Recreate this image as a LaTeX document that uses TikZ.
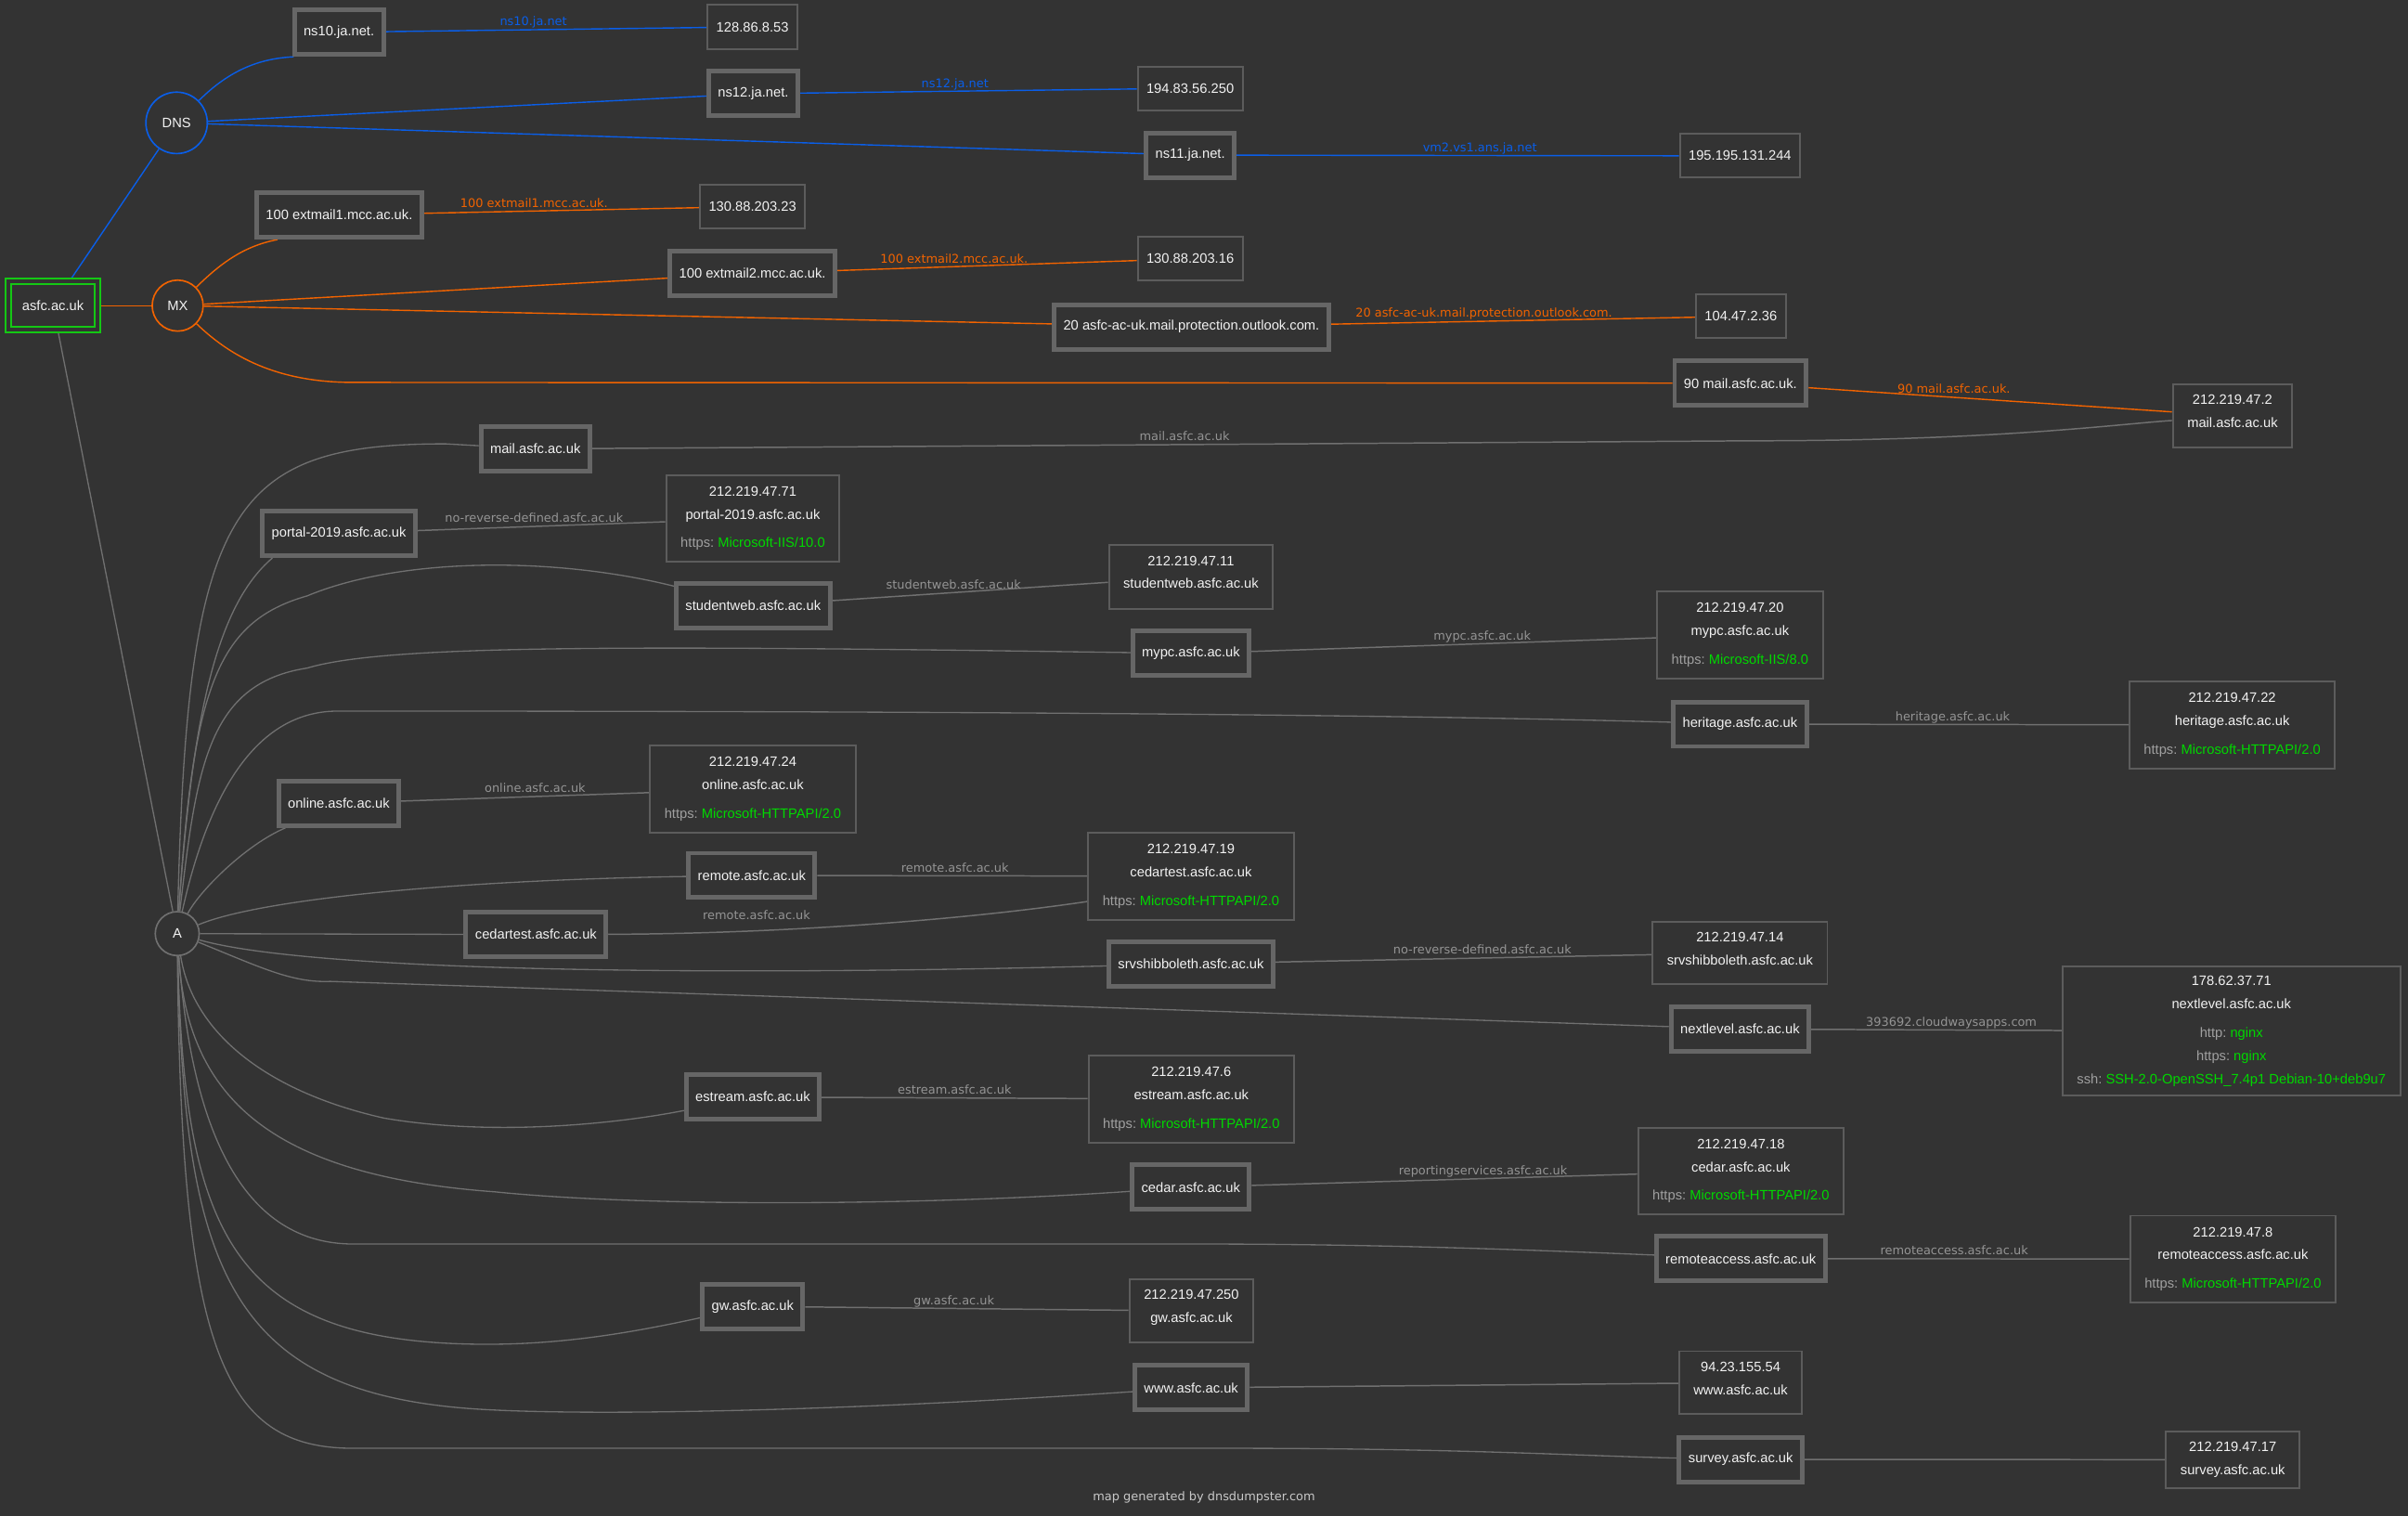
\documentclass[tikz,border=0pt]{standalone}
\usepackage{fontspec}
\setmainfont{Liberation Sans}
\newfontfamily\lblfont{DejaVu Sans}
\usetikzlibrary{backgrounds}

\definecolor{bg}{HTML}{333333}
\definecolor{txt}{HTML}{F2F2F2}
\definecolor{boxgray}{HTML}{666666}
\definecolor{ipgray}{HTML}{5C5C5C}
\definecolor{edgegray}{HTML}{707070}
\definecolor{lblgray}{HTML}{949494}
\definecolor{keygray}{HTML}{A0A0A0}
\definecolor{svcgreen}{HTML}{00D800}
\definecolor{rootgreen}{HTML}{14C814}
\definecolor{dnsblue}{HTML}{0A5EE8}
\definecolor{mxorange}{HTML}{F26300}
\definecolor{footgray}{HTML}{C8C8C8}

\newcommand{\svc}[2]{\textcolor{keygray}{#1:}~\textcolor{svcgreen}{#2}}

\tikzset{
  root/.style={draw=rootgreen, line width=1.2pt, double=bg, double distance=2.3pt, fill=bg, text=txt, minimum width=58.3pt, minimum height=31.3pt},
  host/.style={draw=boxgray, line width=3pt, fill=bg, text=txt, minimum height=29pt, inner xsep=6pt},
  ip/.style={draw=ipgray, line width=1.2pt, fill=bg, text=txt, minimum height=28.5pt, inner xsep=5.7pt, align=center},
  ipx/.style={ip, inner xsep=9.4pt, inner ysep=2pt},
  iptwo/.style={ipx, minimum height=41.5pt, text depth=6pt},
  rtype/.style={circle, draw, line width=1pt, fill=bg, text=txt, inner sep=0pt},
  lbl/.style={font=\lblfont\fontsize{7.8}{9}\selectfont, anchor=south, inner sep=0.5pt, text height=5.8pt, text depth=1.6pt},
  dnsline/.style={dnsblue, line width=0.85pt},
  mxline/.style={mxorange, line width=0.85pt},
  aline/.style={draw=edgegray, line width=0.8pt},
  ipline/.style={draw=edgegray, text=lblgray, line width=0.9pt}
}

\begin{document}
\begin{tikzpicture}[x=1pt, y=-1pt, font=\fontsize{8.9}{15}\selectfont]
  \useasboundingbox (0,0) rectangle (1568,987);

  % domain and record types
  \node[root] (root) at (34.5,199) {asfc.ac.uk};
  \node[rtype, draw=dnsblue, minimum size=40pt] (dns) at (115,80) {DNS};
  \node[rtype, draw=mxorange, minimum size=33.2pt] (mx) at (115.7,199) {MX};
  \node[rtype, draw=edgegray, minimum size=28.6pt] (arec) at (115.4,607.9) {A};

  % name servers
  \node[host] (h_ns10) at (220.7,21) {ns10.ja.net.};
  \node[host] (h_ns12) at (490.5,61) {ns12.ja.net.};
  \node[host] (h_ns11) at (775,101) {ns11.ja.net.};
  \node[ip] (ip_ns10) at (490,17.5) {128.86.8.53};
  \node[ip] (ip_ns12) at (775,57.5) {194.83.56.250};
  \node[ip] (ip_ns11) at (1133,101.5) {195.195.131.244};

  % mail exchangers
  \node[host] (h_mx1) at (220.9,140) {100 extmail1.mcc.ac.uk.};
  \node[host] (h_mx2) at (490,178) {100 extmail2.mcc.ac.uk.};
  \node[host] (h_mx3) at (775.8,212.8) {20 asfc-ac-uk.mail.protection.outlook.com.};
  \node[host] (h_mx4) at (1133.3,249.5) {90 mail.asfc.ac.uk.};
  \node[ip] (ip_mx1) at (490,134.5) {130.88.203.23};
  \node[ip] (ip_mx2) at (775,168.5) {130.88.203.16};
  \node[ip] (ip_mx3) at (1133.6,206) {104.47.2.36};
  \node[iptwo] (ip_mail) at (1453.7,270.8) {212.219.47.2\\mail.asfc.ac.uk};

  % A records
  \node[host] (h_mail) at (348.6,292.3) {mail.asfc.ac.uk};
  \node[host] (h_portal) at (220.7,347.3) {portal-2019.asfc.ac.uk};
  \node[host] (h_student) at (490.4,394.5) {studentweb.asfc.ac.uk};
  \node[host] (h_mypc) at (775.5,425.5) {mypc.asfc.ac.uk};
  \node[host] (h_heritage) at (1133,471.5) {heritage.asfc.ac.uk};
  \node[host] (h_online) at (220.6,523) {online.asfc.ac.uk};
  \node[host] (h_remote) at (489.5,570) {remote.asfc.ac.uk};
  \node[host] (h_cedartest) at (349,608.5) {cedartest.asfc.ac.uk};
  \node[host] (h_srv) at (775.5,627.5) {srvshibboleth.asfc.ac.uk};
  \node[host] (h_next) at (1133,670) {nextlevel.asfc.ac.uk};
  \node[host] (h_estream) at (490.2,714.3) {estream.asfc.ac.uk};
  \node[host] (h_cedar) at (775.4,773) {cedar.asfc.ac.uk};
  \node[host] (h_ra) at (1133.5,819.5) {remoteaccess.asfc.ac.uk};
  \node[host] (h_gw) at (490.1,850.6) {gw.asfc.ac.uk};
  \node[host] (h_www) at (775.6,903.6) {www.asfc.ac.uk};
  \node[host] (h_survey) at (1133.5,950.3) {survey.asfc.ac.uk};

  % addresses
  \node[ipx, minimum height=56.5pt] (ip_portal) at (490.2,337.7) {212.219.47.71\\portal-2019.asfc.ac.uk\\[3.5pt]\svc{https}{Microsoft-IIS/10.0}};
  \node[iptwo] (ip_student) at (775.5,375.6) {212.219.47.11\\studentweb.asfc.ac.uk};
  \node[ipx, minimum height=56.5pt] (ip_mypc) at (1133,413.5) {212.219.47.20\\mypc.asfc.ac.uk\\[3.5pt]\svc{https}{Microsoft-IIS/8.0}};
  \node[ipx, minimum height=56.5pt] (ip_heritage) at (1453.5,472) {212.219.47.22\\heritage.asfc.ac.uk\\[3.5pt]\svc{https}{Microsoft-HTTPAPI/2.0}};
  \node[ipx, minimum height=56.5pt] (ip_online) at (490.2,513.8) {212.219.47.24\\online.asfc.ac.uk\\[3.5pt]\svc{https}{Microsoft-HTTPAPI/2.0}};
  \node[ipx, minimum height=56.5pt] (ip_cedartest) at (775.5,570.5) {212.219.47.19\\cedartest.asfc.ac.uk\\[3.5pt]\svc{https}{Microsoft-HTTPAPI/2.0}};
  \node[iptwo, minimum height=41pt] (ip_srv) at (1133,620.5) {212.219.47.14\\srvshibboleth.asfc.ac.uk};
  \node[ipx, minimum height=84pt] (ip_next) at (1453,671.5) {178.62.37.71\\nextlevel.asfc.ac.uk\\[3.5pt]\svc{http}{nginx}\\\svc{https}{nginx}\\\svc{ssh}{SSH-2.0-OpenSSH\_7.4p1 Debian-10+deb9u7}};
  \node[ipx, minimum height=56.5pt] (ip_estream) at (775.7,715.6) {212.219.47.6\\estream.asfc.ac.uk\\[3.5pt]\svc{https}{Microsoft-HTTPAPI/2.0}};
  \node[ipx, minimum height=56.5pt] (ip_cedar) at (1133.6,762.5) {212.219.47.18\\cedar.asfc.ac.uk\\[3.5pt]\svc{https}{Microsoft-HTTPAPI/2.0}};
  \node[ipx, minimum height=56.5pt] (ip_ra) at (1454,819.8) {212.219.47.8\\remoteaccess.asfc.ac.uk\\[3.5pt]\svc{https}{Microsoft-HTTPAPI/2.0}};
  \node[iptwo, minimum height=41pt] (ip_gw) at (775.8,853.6) {212.219.47.250\\gw.asfc.ac.uk};
  \node[iptwo, minimum height=41pt] (ip_www) at (1133.4,900.3) {94.23.155.54\\www.asfc.ac.uk};
  \node[ipx, minimum height=37pt] (ip_survey) at (1453.9,950.4) {212.219.47.17\\survey.asfc.ac.uk};

  \node[lbl, anchor=center, text=footgray] (credit) at (784,975) {map generated by dnsdumpster.com};

  \begin{scope}[on background layer]
    \fill[bg] (0,0) rectangle (1568,987);

    \draw[dnsline] (root) -- (dns);
    \draw[mxline] (root) -- (mx);
    \draw[aline] (root) -- (arec);

    \draw[dnsline] (dns) .. controls (150,45) and (170,38) .. ([xshift=1pt]h_ns10.south west);
    \draw[dnsline] (dns) -- (h_ns12);
    \draw[dnsline] (dns) -- (h_ns11);
    \draw[dnsline] (h_ns10) -- node[lbl,pos=0.46] {ns10.ja.net} (ip_ns10);
    \draw[dnsline] (h_ns12) -- node[lbl,pos=0.46] {ns12.ja.net} (ip_ns12);
    \draw[dnsline] (h_ns11) -- node[lbl,pos=0.55] {vm2.vs1.ans.ja.net} (ip_ns11);

    \draw[mxline] (mx) .. controls (145,170) and (160,160) .. ([xshift=15pt]h_mx1.south west);
    \draw[mxline] (mx) -- (h_mx2);
    \draw[mxline] (mx) -- (h_mx3);
    \draw[mxline] (mx) .. controls (150,232) and (180,249) .. (230,249) -- (h_mx4);
    \draw[mxline] (h_mx1) -- node[lbl,pos=0.40] {100 extmail1.mcc.ac.uk.} (ip_mx1);
    \draw[mxline] (h_mx2) -- node[lbl,pos=0.39] {100 extmail2.mcc.ac.uk.} (ip_mx2);
    \draw[mxline] (h_mx3) -- node[lbl,pos=0.42] {20 asfc-ac-uk.mail.protection.outlook.com.} (ip_mx3);
    \draw[mxline] (h_mx4) -- node[lbl,pos=0.40] {90 mail.asfc.ac.uk.} (ip_mail);

    \draw[aline] (arec) .. controls (122,330) and (150,289) .. (290,289) -- (h_mail);
    \draw[aline] (arec) .. controls (125,470) and (140,395) .. ([xshift=8pt]h_portal.south west);
    \draw[aline] (arec) .. controls (126,450) and (140,405) .. (200,388) .. controls (260,363) and (360,362) .. (h_student);
    \draw[aline] (arec) .. controls (128,500) and (135,445) .. (200,435) .. controls (250,420) and (400,420) .. (h_mypc);
    \draw[aline] (arec) .. controls (135,520) and (165,463) .. (220,463) .. controls (600,463) and (900,465) .. (h_heritage);
    \draw[aline] (arec) .. controls (130,580) and (160,550) .. ([xshift=6pt]h_online.south west);
    \draw[aline] (arec) .. controls (170,585) and (300,573) .. (h_remote);
    \draw[aline] (arec) -- (h_cedartest);
    \draw[aline] (arec) .. controls (200,632) and (450,636) .. (h_srv);
    \draw[aline] (arec) .. controls (170,630) and (190,640) .. (215,639) -- (h_next);
    \draw[aline] (arec) .. controls (125,670) and (170,710) .. (250,728) .. controls (320,740) and (400,732) .. (h_estream);
    \draw[aline] (arec) .. controls (122,710) and (170,765) .. (322,776) .. controls (420,786) and (600,785) .. (h_cedar);
    \draw[aline] (arec) .. controls (125,740) and (160,810) .. (230,810) -- (780,810) .. controls (900,810) and (1000,814) .. (h_ra);
    \draw[aline] (arec) .. controls (120,800) and (150,870) .. (300,875) .. controls (360,877) and (410,868) .. (h_gw);
    \draw[aline] (arec) .. controls (120,830) and (150,910) .. (320,918) .. controls (400,922) and (560,918) .. (h_www);
    \draw[aline] (arec) .. controls (118,880) and (145,943) .. (230,943) -- (800,943) .. controls (950,943) and (1030,948) .. (h_survey);

    \draw[ipline] (h_mail) -- node[lbl,pos=0.51] {mail.asfc.ac.uk} (1142,287) .. controls (1300,287) and (1380,276) .. ([yshift=-3pt]ip_mail.west);
    \draw[ipline] (h_portal) -- node[lbl,pos=0.47] {no-reverse-defined.asfc.ac.uk} (ip_portal);
    \draw[ipline] (h_student) -- node[lbl,pos=0.44] {studentweb.asfc.ac.uk} (ip_student);
    \draw[ipline] (h_mypc) -- node[lbl,pos=0.57] {mypc.asfc.ac.uk} (ip_mypc);
    \draw[ipline] (h_heritage) -- node[lbl,pos=0.45] {heritage.asfc.ac.uk} (ip_heritage);
    \draw[ipline] (h_online) -- node[lbl,pos=0.54] {online.asfc.ac.uk} (ip_online);
    \draw[ipline] (h_remote) -- node[lbl,pos=0.51] {remote.asfc.ac.uk} (ip_cedartest);
    \draw[ipline] (h_cedartest) .. controls (500,608) and (620,600) .. ([yshift=-16.5pt]ip_cedartest.west) node[lbl,pos=0.3,yshift=5pt] {remote.asfc.ac.uk};
    \draw[ipline] (h_srv) -- node[lbl,pos=0.55] {no-reverse-defined.asfc.ac.uk} (ip_srv);
    \draw[ipline] (h_next) -- node[lbl,pos=0.56] {393692.cloudwaysapps.com} (ip_next);
    \draw[ipline] (h_estream) -- node[lbl,pos=0.5] {estream.asfc.ac.uk} (ip_estream);
    \draw[ipline] (h_cedar) -- node[lbl,pos=0.6] {reportingservices.asfc.ac.uk} (ip_cedar);
    \draw[ipline] (h_ra) -- node[lbl,pos=0.42] {remoteaccess.asfc.ac.uk} (ip_ra);
    \draw[ipline] (h_gw) -- node[lbl,pos=0.46] {gw.asfc.ac.uk} (ip_gw);
    \draw[ipline] (h_www) -- (ip_www);
    \draw[ipline] (h_survey) -- (ip_survey);
  \end{scope}
\end{tikzpicture}
\end{document}
